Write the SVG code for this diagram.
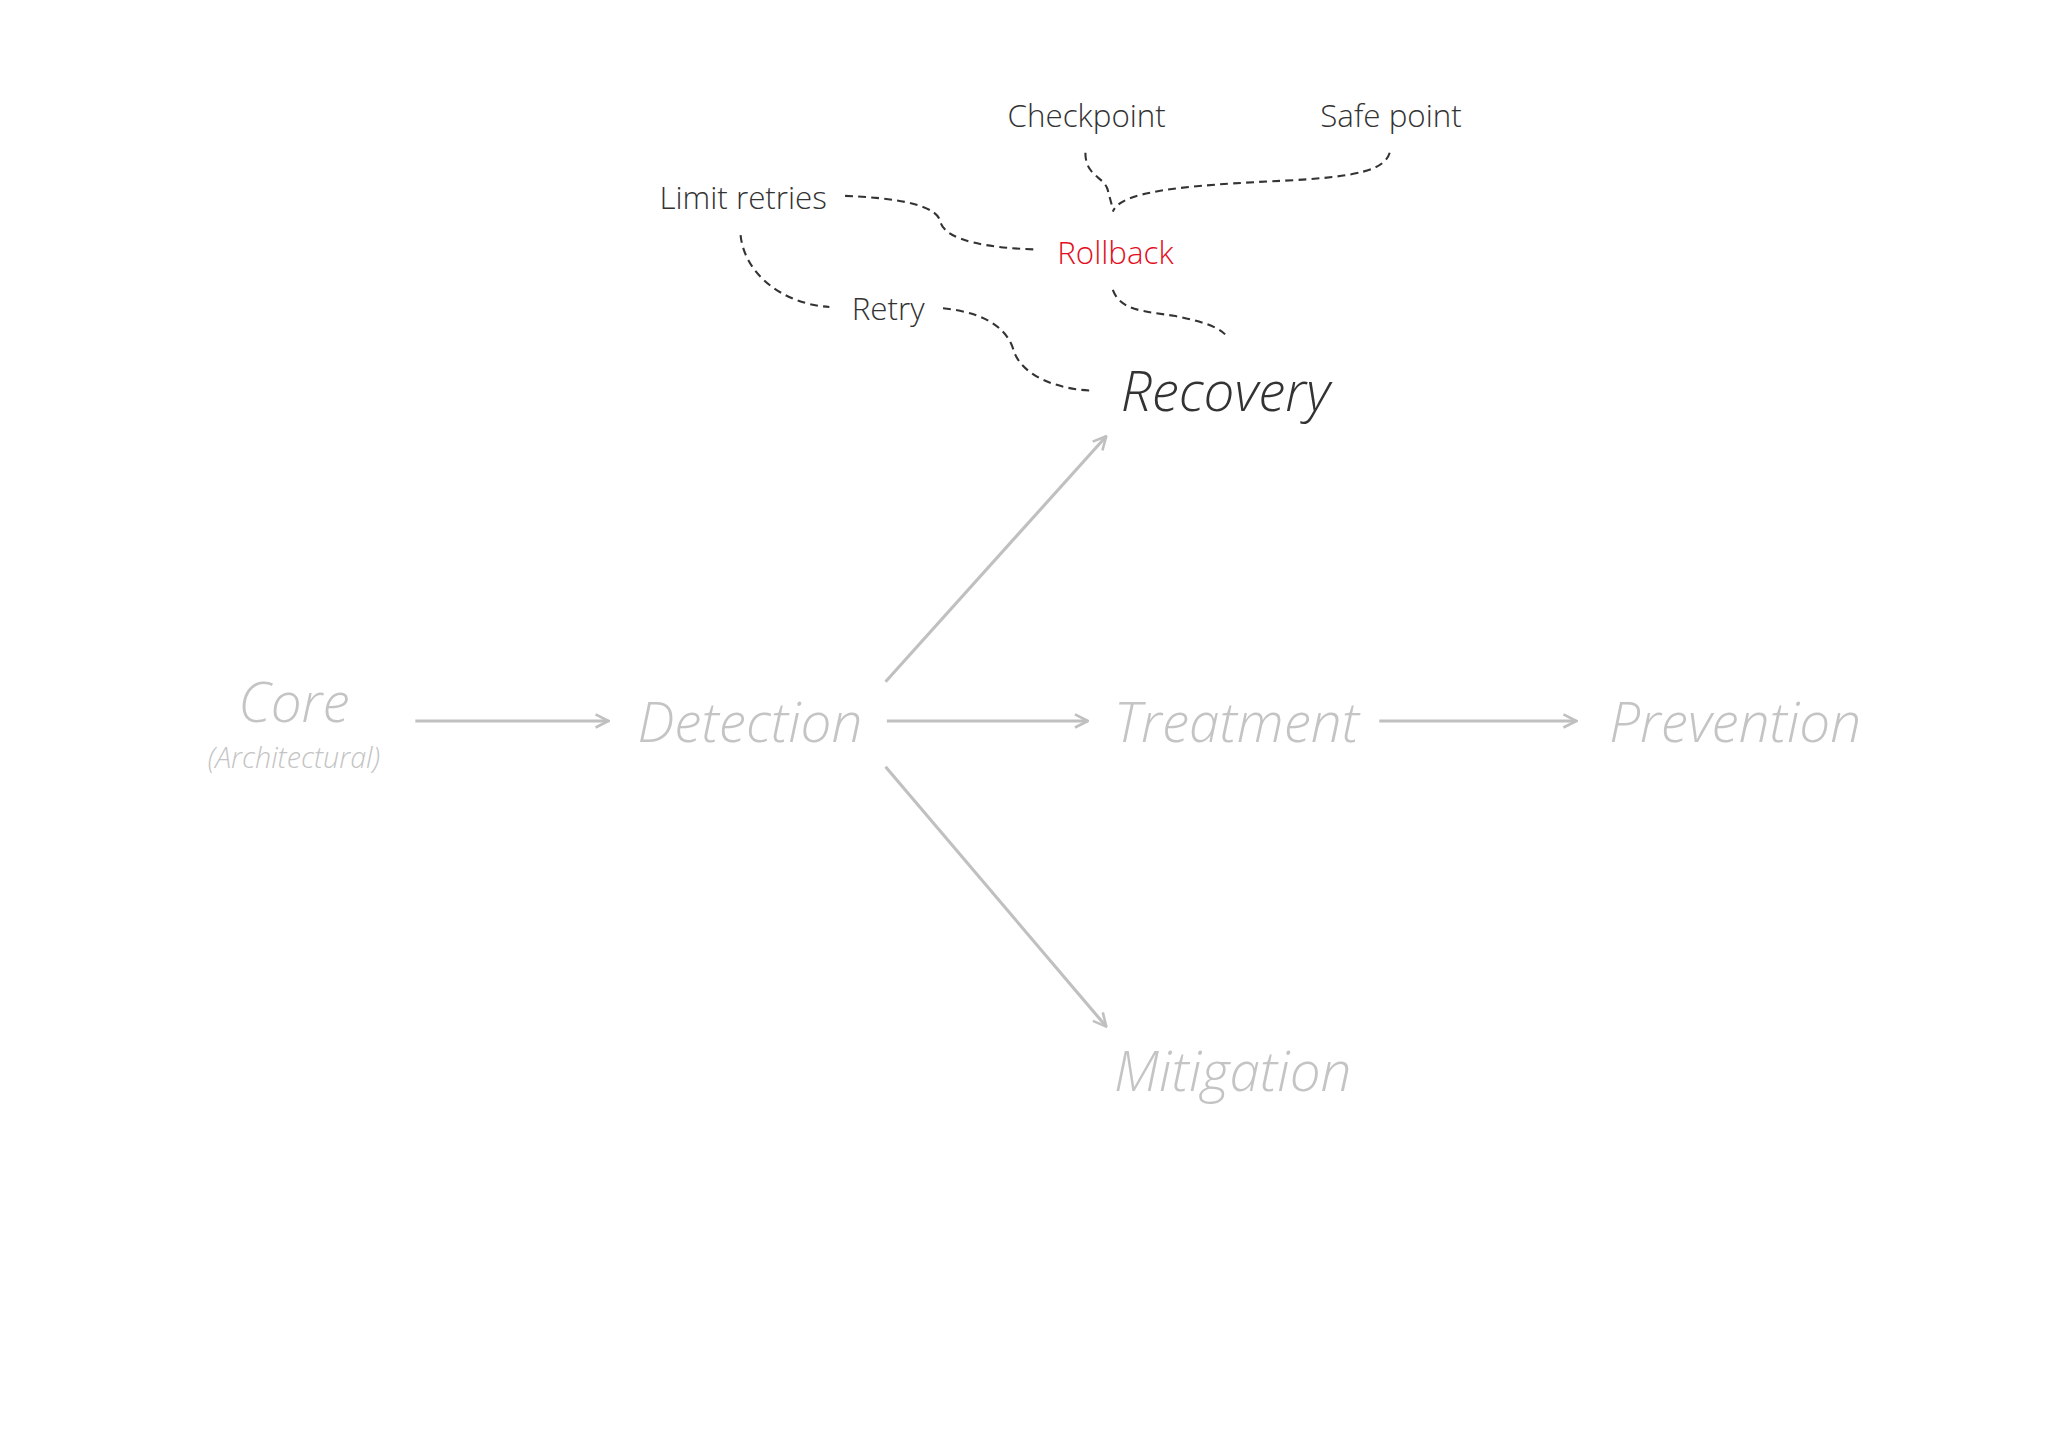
<svg xmlns="http://www.w3.org/2000/svg" width="2048" height="1449" viewBox="0 0 2048 1449">
<style>
.lbl{font-family:"Open Sans","Liberation Sans",sans-serif;font-weight:300;fill:#333;font-size:24px;text-anchor:middle}
.big{font-family:"Open Sans","Liberation Sans",sans-serif;font-weight:300;font-style:italic;fill:#c4c4c4;font-size:42px}
.arr{stroke:#c0c0c0;stroke-width:2.4;fill:none;marker-end:url(#ah)}
.dash{stroke:#333;stroke-width:1.6;fill:none;stroke-dasharray:6 4}
</style>
<defs>
<marker id="ah" viewBox="0 0 12 12" refX="11" refY="6" markerWidth="12" markerHeight="12" markerUnits="userSpaceOnUse" orient="auto">
<path d="M1,1 L11,6 L1,11" fill="none" stroke="#c0c0c0" stroke-width="2"/>
</marker>
</defs>
<rect width="2048" height="1449" fill="#fff"/>
<g transform="scale(1.30612)">
<g id="connectors">
<line class="arr" x1="318" y1="552" x2="466" y2="552"/>
<line class="arr" x1="679" y1="552" x2="833" y2="552"/>
<line class="arr" x1="1056" y1="552" x2="1207" y2="552"/>
<line class="arr" x1="678" y1="522" x2="847" y2="334"/>
<line class="arr" x1="678" y1="587" x2="847" y2="786"/>
<path class="dash" d="M647,150 C700,152 718,160 720,170 C724,185 760,190 793,191"/>
<path class="dash" d="M567,180 C570,210 600,233 635,235"/>
<path class="dash" d="M722,236 C760,240 772,255 776,268 C782,288 810,298 835,299"/>
<path class="dash" d="M831,117 C831,135 845,135 848,145 L852,160"/>
<path class="dash" d="M1064,117 C1060,130 1040,135 990,138 C900,142 858,147 852,162"/>
<path class="dash" d="M852,222 C858,238 875,238 900,242 C920,246 932,250 938,256"/>
</g>
<g id="checkpoint"><text class="lbl" x="832" y="97">Checkpoint</text></g>
<g id="safepoint"><text class="lbl" x="1065" y="97">Safe point</text></g>
<g id="limitretries"><text class="lbl" x="569" y="160">Limit retries</text></g>
<g id="rollback"><text class="lbl" x="854" y="202" style="fill:#e2101e">Rollback</text></g>
<g id="retry"><text class="lbl" x="680" y="245">Retry</text></g>
<g id="recovery"><text class="big" x="858" y="315" style="fill:#333">Recovery</text></g>
<g id="core"><text class="big" x="225" y="553" text-anchor="middle">Core</text>
<text class="big" x="225" y="588" text-anchor="middle" style="font-size:22px">(Architectural)</text></g>
<g id="detection"><text class="big" x="488" y="568">Detection</text></g>
<g id="treatment"><text class="big" x="853" y="568">Treatment</text></g>
<g id="prevention"><text class="big" x="1232" y="568">Prevention</text></g>
<g id="mitigation"><text class="big" x="853" y="835">Mitigation</text></g>
</g>
</svg>
